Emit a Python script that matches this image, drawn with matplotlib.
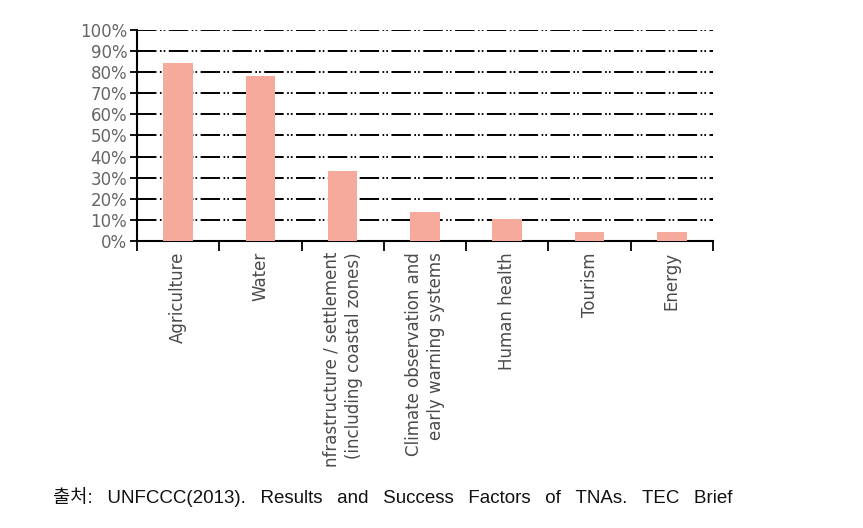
import matplotlib
matplotlib.use('Agg')
import matplotlib.pyplot as plt
import numpy as np
from matplotlib.ticker import FuncFormatter

## data
categories = ['Agriculture', 'Water',
              'nfrastructure / settlement\n(including coastal zones)',
              'Climate observation and\nearly warning systems',
              'Human health', 'Tourism', 'Energy']
shares = [84.5, 78, 33, 13.5, 10.5, 4.3, 4.3]
yticks = list(range(0, 101, 10))
source = '출처: UNFCCC(2013). Results and Success Factors of TNAs. TEC Brief'

plt.rcParams['font.family'] = ['DejaVu Sans']
plt.rcParams['lines.scale_dashes'] = False

fig = plt.figure(figsize=(8.63, 5.28), dpi=100)
ax = fig.add_axes([0.1587, 0.5436, 0.6674, 0.3996])

x = np.arange(len(categories))
ax.bar(x, shares, width=0.36, color='#F5AA9C', zorder=3)

# dash-dot-dot gridlines
for v in yticks[1:]:
    ax.axhline(v, color='black', lw=1.4, zorder=1,
               linestyle=(0, (14, 2.5, 1.2, 1.5, 1.2, 2.5)))

ax.set_xlim(-0.5, len(categories) - 0.5)
ax.set_ylim(0, 100)
ax.set_yticks(yticks)
ax.yaxis.set_major_formatter(FuncFormatter(lambda v, pos: '%d%%' % v))
ax.tick_params(axis='y', direction='out', length=5, width=1.3,
               labelsize=12, labelcolor='#666666', pad=2)

# ticks on the category boundaries, labels at the centres
ax.set_xticks(np.arange(len(categories) + 1) - 0.5)
ax.set_xticklabels([])
ax.set_xticks(x, minor=True)
ax.set_xticklabels(categories, minor=True, rotation=90, va='top',
                   ha='center', fontsize=12, color='#4a4a4a',
                   multialignment='right', linespacing=1.3)
ax.tick_params(axis='x', which='major', direction='out', length=7, width=1.3)
ax.tick_params(axis='x', which='minor', length=0, pad=8)

for s in ['top', 'right']:
    ax.spines[s].set_visible(False)
for s in ['left', 'bottom']:
    ax.spines[s].set_linewidth(1.5)

# the source line has wide word spacing in the reference
fig.text(0.0614, 0.059, source.replace(' ', ' \u2002'), fontsize=13.5,
         color='#111111', va='center',
         family=['Liberation Sans', 'Noto Sans CJK KR'])

plt.savefig('out.png', dpi=100)
